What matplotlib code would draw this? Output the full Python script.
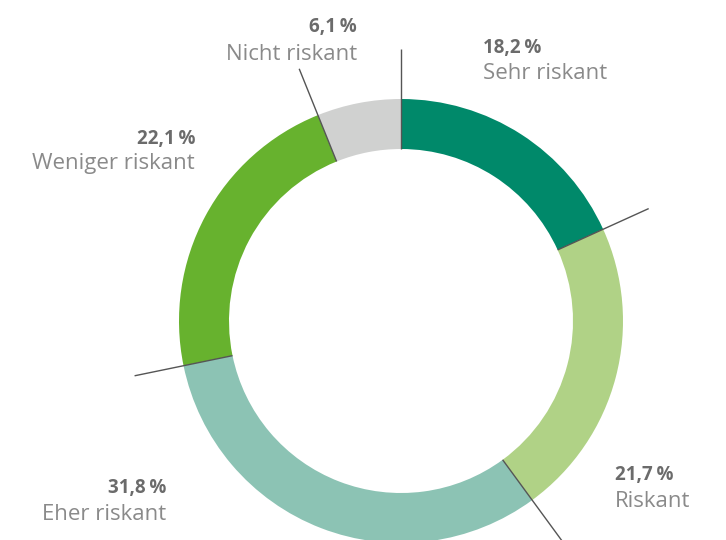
import matplotlib.pyplot as plt
import numpy as np

# Daten (im Uhrzeigersinn ab 12 Uhr)
kategorien = ["Sehr riskant", "Riskant", "Eher riskant", "Weniger riskant", "Nicht riskant"]
anteile = [18.2, 21.7, 31.8, 22.1, 6.1]
farben = ["#00896a", "#b0d286", "#8cc3b4", "#67b22e", "#d0d1d0"]

W, H = 726, 540
CX, CY, R = 401, 321, 222  # Mittelpunkt und Radius in Pixel


def px(x, y):
    """Pixel (von oben links) -> Datenkoordinaten."""
    return (x - CX) / R, (CY - y) / R


# Beschriftungspositionen (Pixel): x, Basislinie Zahl, Basislinie Text, Ausrichtung
label_pos = [
    (483, 53, 79, "left"),
    (615, 480, 507, "left"),
    (166, 493, 520, "right"),
    (195, 144, 169, "right"),
    (357, 32, 60, "right"),
]

fig = plt.figure(figsize=(W / 100, H / 100), dpi=100)
ax = fig.add_axes([0, 0, 1, 1])
ax.set_xlim(-CX / R, (W - CX) / R)
ax.set_ylim(-(H - CY) / R, CY / R)
ax.axis("off")

ring = 50 / R
ax.pie(anteile, colors=farben, startangle=90, counterclock=False,
       radius=1.0, wedgeprops=dict(width=ring, linewidth=0))
ax.set_xlim(-CX / R, (W - CX) / R)
ax.set_ylim(-(H - CY) / R, CY / R)
ax.set_aspect("auto")

# Trennlinien an den Segmentgrenzen
grenzen = np.concatenate([[0], np.cumsum(anteile)[:-1]])
r_in, r_out = 172 / R, 272 / R
for g in grenzen:
    w = np.deg2rad(90 - g / sum(anteile) * 360)
    ax.plot([r_in * np.cos(w), r_out * np.cos(w)],
            [r_in * np.sin(w), r_out * np.sin(w)],
            color="#555555", lw=1, solid_capstyle="butt")

fam = ["Open Sans", "DejaVu Sans"]
for name, wert, (x, y1, y2, ha) in zip(kategorien, anteile, label_pos):
    txt = f"{wert:.1f}".replace(".", ",") + "\u2009%"
    ax.text(*px(x, y1), txt, ha=ha, va="baseline", fontsize=13.5,
            fontweight="bold", color="#6b6b6b", family=fam)
    ax.text(*px(x, y2), name, ha=ha, va="baseline", fontsize=16,
            color="#8a8a8a", family=fam)

plt.savefig("out.png", dpi=100)
plt.close()
